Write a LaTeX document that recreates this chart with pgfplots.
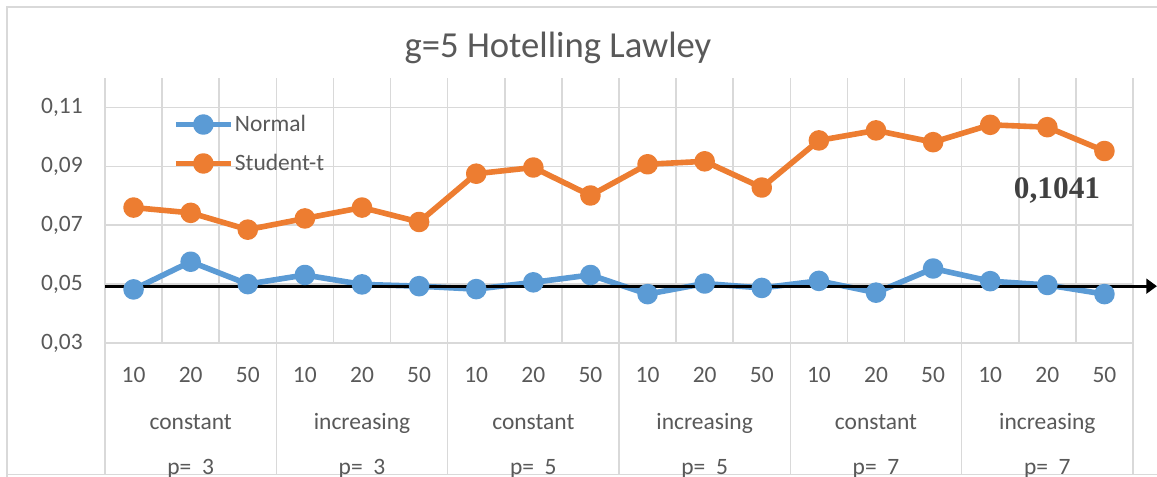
\documentclass[border=0pt]{standalone}
\usepackage{pgfplots}
\pgfplotsset{compat=1.18}
\usepackage{fontspec}
\setmainfont{Carlito}
\newfontfamily\serifbold{Liberation Serif}
\usetikzlibrary{arrows.meta}
\definecolor{gridgray}{HTML}{D9D9D9}
\definecolor{txtgray}{HTML}{595959}
\definecolor{notegray}{HTML}{404040}
\definecolor{xlblue}{HTML}{5B9BD5}
\definecolor{xlorange}{HTML}{ED7D31}
\newcommand\lbl{\fontsize{17.6pt}{21pt}\selectfont}

\begin{document}
\begin{tikzpicture}
\useasboundingbox (0pt,0pt) rectangle (867.75pt,357.75pt);
\clip (0pt,0pt) rectangle (867.75pt,357.75pt);
\fill[white] (0pt,0pt) rectangle (867.75pt,357.75pt);
% chart frame
\draw[gridgray, line width=1.1pt] (5.25pt,-5pt) -- (5.25pt,352.5pt) -- (880pt,352.5pt);
\draw[gridgray, line width=1.1pt] (5.25pt,1.9pt) -- (880pt,1.9pt);
% title
\node[text=txtgray, font=\fontsize{27.5pt}{33pt}\selectfont, anchor=base] at (418.5pt,314.5pt) {g=5 Hotelling Lawley};
\begin{axis}[
  at={(78.75pt,100.5pt)}, anchor=south west,
  scale only axis, width=771pt, height=198.75pt,
  xmin=-0.5, xmax=17.5, ymin=0.03, ymax=0.12,
  clip=false,
  axis line style={draw=none},
  tick style={draw=none},
  ytick={0.03,0.05,0.07,0.09,0.11},
  yticklabels={{0,03},{0,05},{0,07},{0,09},{0,11}},
  xtick={0,...,17},
  xticklabels={10,20,50,10,20,50,10,20,50,10,20,50,10,20,50,10,20,50},
  minor xtick={-0.5,0.5,...,17.5},
  xminorgrids, ymajorgrids,
  minor grid style={gridgray, line width=1.1pt},
  major grid style={gridgray, line width=1.1pt},
  ticklabel style={font=\lbl, text=txtgray},
  yticklabel style={anchor=east, inner sep=0pt, xshift=-16.5pt},
  xticklabel style={anchor=base, inner sep=0pt, yshift=-29.6pt},
  legend style={draw=none, fill=none, font=\lbl, text=txtgray,
    at={(0.066,0.865)}, anchor=north west, row sep=13.5pt,
    inner sep=0pt, nodes={inner sep=1pt}},
  legend cell align=left,
  legend image code/.code={\draw[#1, mark repeat=2, mark phase=2]
    plot coordinates {(0pt,0pt) (20.6pt,0pt) (41.2pt,0pt)};},
]
\addplot[xlblue, line width=4.2pt, line join=round, mark=*, mark size=5.6pt,
  mark options={solid, fill=xlblue, draw=none}] coordinates {
  (0,0.0482) (1,0.0576) (2,0.0500) (3,0.0531) (4,0.0499) (5,0.0493)
  (6,0.0483) (7,0.0506) (8,0.0531) (9,0.0466) (10,0.0502) (11,0.0487)
  (12,0.0511) (13,0.0471) (14,0.0553) (15,0.0510) (16,0.0497) (17,0.0466)};
\addlegendentry{Normal}
\addplot[xlorange, line width=4.2pt, line join=round, mark=*, mark size=5.6pt,
  mark options={solid, fill=xlorange, draw=none}] coordinates {
  (0,0.0760) (1,0.0742) (2,0.0685) (3,0.0723) (4,0.0760) (5,0.0711)
  (6,0.0875) (7,0.0896) (8,0.0801) (9,0.0907) (10,0.0917) (11,0.0828)
  (12,0.0988) (13,0.1022) (14,0.0982) (15,0.1041) (16,0.1033) (17,0.0952)};
\addlegendentry{Student-t}
% reference level
\addplot[black, line width=2.5pt, -{Triangle[length=8pt,width=11pt]}, forget plot]
  coordinates {(-0.5,0.0493) (17.92,0.0493)};
% value note
\node[text=notegray, font=\serifbold\bfseries\fontsize{23.5pt}{28pt}\selectfont]
  at (axis cs:16.17,0.0819) {0,1041};
% category table below the axis
\pgfplotsinvokeforeach{-0.5,2.5,5.5,8.5,11.5,14.5,17.5}{
  \draw[gridgray, line width=1.1pt] (axis cs:#1,0.03) -- ++(0pt,-99pt);}
\pgfplotsinvokeforeach{1,7,13}{
  \node[font=\lbl, text=txtgray, anchor=base, inner sep=0pt, yshift=-65pt]
    at (axis cs:#1,0.03) {constant};}
\pgfplotsinvokeforeach{4,10,16}{
  \node[font=\lbl, text=txtgray, anchor=base, inner sep=0pt, yshift=-65pt]
    at (axis cs:#1,0.03) {increasing};}
\node[font=\lbl, text=txtgray, anchor=base, inner sep=0pt, yshift=-98.5pt] at (axis cs:1,0.03) {p=\ \ 3};
\node[font=\lbl, text=txtgray, anchor=base, inner sep=0pt, yshift=-98.5pt] at (axis cs:4,0.03) {p=\ \ 3};
\node[font=\lbl, text=txtgray, anchor=base, inner sep=0pt, yshift=-98.5pt] at (axis cs:7,0.03) {p=\ \ 5};
\node[font=\lbl, text=txtgray, anchor=base, inner sep=0pt, yshift=-98.5pt] at (axis cs:10,0.03) {p=\ \ 5};
\node[font=\lbl, text=txtgray, anchor=base, inner sep=0pt, yshift=-98.5pt] at (axis cs:13,0.03) {p=\ \ 7};
\node[font=\lbl, text=txtgray, anchor=base, inner sep=0pt, yshift=-98.5pt] at (axis cs:16,0.03) {p=\ \ 7};
\end{axis}
\end{tikzpicture}
\end{document}
